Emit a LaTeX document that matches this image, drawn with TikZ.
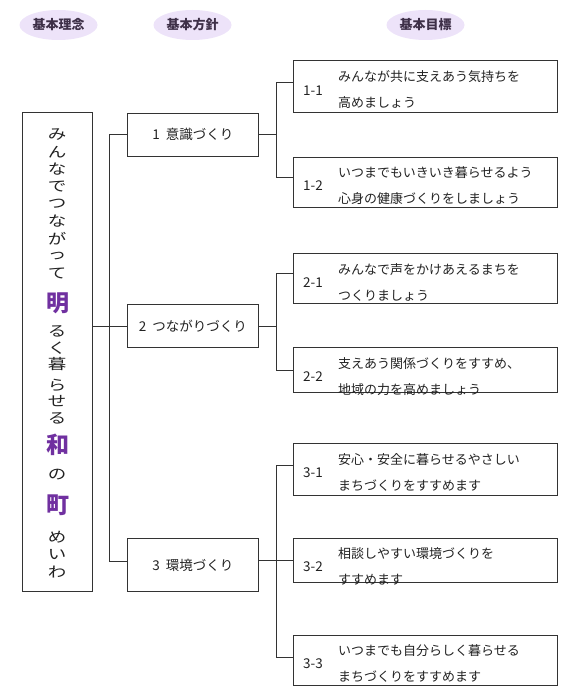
\documentclass[tikz,border=0pt]{standalone}
\usepackage{fontspec}
\setmainfont{Noto Sans CJK JP}
\usetikzlibrary{shapes.geometric,calc}
\definecolor{hdrfill}{HTML}{EDE3F9}
\definecolor{hdrtext}{HTML}{3E3048}
\definecolor{lineclr}{HTML}{333333}
\definecolor{txt}{HTML}{222222}
\definecolor{wapurple}{HTML}{7030A0}
\tikzset{
  hdr/.style={ellipse, fill=hdrfill, minimum width=78pt, minimum height=30pt, inner sep=0pt, text=hdrtext, font=\fontsize{13}{14}\selectfont\bfseries},
  policybox/.style={draw=lineclr, line width=0.8pt, minimum width=131pt, inner sep=0pt, text=txt, font=\fontsize{13.5}{15}\selectfont},
  goalbox/.style={draw=lineclr, line width=0.8pt, minimum width=264pt, inner sep=0pt, anchor=north west},
  goallabel/.style={anchor=west, inner sep=0pt, text=txt, font=\fontsize{13.5}{15}\selectfont},
  goaltext/.style={anchor=west, inner sep=0pt, align=left, text=txt, font=\fontsize{13}{26}\selectfont},
  vch/.style={inner sep=0pt, text=txt, font=\fontsize{18.5}{19}\selectfont},
  bigch/.style={inner sep=0pt, text=wapurple, font=\fontsize{23}{24}\selectfont\bfseries},
  conn/.style={draw=lineclr, line width=0.8pt},
}
\begin{document}
\begin{tikzpicture}[x=1pt,y=-1pt]
\useasboundingbox (0,0) rectangle (580,700);
% headers
\node[hdr] (h1) at (58.5,25) {基本理念};
\node[hdr] (h2) at (192.5,25) {基本方針};
\node[hdr] (h3) at (425.5,25) {基本目標};
% left concept box
\node[draw=lineclr, line width=0.8pt, minimum width=70pt, minimum height=479pt, inner sep=0pt, anchor=north west] (L) at (22,112) {};
\foreach \c/\yy [count=\i] in {み/135,ん/152,な/169.5,で/187,つ/204,な/221,が/238.5,っ/256.5,て/273.5,る/331.5,く/348,暮/364.5,ら/385,せ/401.5,る/418.5,の/475,め/537,い/555,わ/572}
  \node[vch] (v\i) at (57,\yy) {\scalebox{1}[0.78]{\c}};
\node[bigch] (m1) at (57.5,303) {明};
\node[bigch] (m2) at (57.5,445) {和};
\node[bigch] (m3) at (57.5,505) {町};
% policy boxes
\node[policybox, minimum height=43pt, anchor=north west] (b1) at (127,113) {1\hspace{6pt}意識づくり};
\node[policybox, minimum height=43pt, anchor=north west] (b2) at (127,304) {2\hspace{6pt}つながりづくり};
\node[policybox, minimum height=53pt, anchor=north west] (b3) at (127,538) {3\hspace{6pt}環境づくり};
% goal boxes
\node[goalbox, minimum height=52pt] (g11) at (293,60) {};
\node[goalbox, minimum height=50pt] (g12) at (293,157) {};
\node[goalbox, minimum height=50pt] (g21) at (293,253) {};
\node[goalbox, minimum height=45pt] (g22) at (293,347) {};
\node[goalbox, minimum height=52pt] (g31) at (293,443) {};
\node[goalbox, minimum height=44pt] (g32) at (293,538) {};
\node[goalbox, minimum height=50pt] (g33) at (293,635) {};
% goal labels and texts
\node[goallabel] (l11) at (303,91) {1-1};
\node[goaltext] (t11) at (338,89.5) {みんなが共に支えあう気持ちを\\高めましょう};
\node[goallabel] (l12) at (303,186) {1-2};
\node[goaltext] (t12) at (338,186) {いつまでもいきいき暮らせるよう\\心身の健康づくりをしましょう};
\node[goallabel] (l21) at (303,283) {2-1};
\node[goaltext] (t21) at (338,282) {みんなで声をかけあえるまちを\\つくりましょう};
\node[goallabel] (l22) at (303,377) {2-2};
\node[goaltext] (t22) at (338,376.5) {支えあう関係づくりをすすめ、\\地域の力を高めましょう};
\node[goallabel] (l31) at (303,473) {3-1};
\node[goaltext] (t31) at (338,472.5) {安心・安全に暮らせるやさしい\\まちづくりをすすめます};
\node[goallabel] (l32) at (303,567) {3-2};
\node[goaltext] (t32) at (338,566) {相談しやすい環境づくりを\\すすめます};
\node[goallabel] (l33) at (303,664) {3-3};
\node[goaltext] (t33) at (338,663.5) {いつまでも自分らしく暮らせる\\まちづくりをすすめます};
% connectors left
\draw[conn] (L.east |- b2.west) -- (b2.west);
\draw[conn] (b1.west) -- ++(-18,0) coordinate (jl) |- ([yshift=4pt]b3.west);
% group 1
\draw[conn] (b1.east) -- ++(18,0) coordinate (j1);
\draw[conn] ([yshift=4pt]g11.west) -| (j1) |- ([yshift=5pt]g12.west);
% group 2
\draw[conn] (b2.east) -- ++(18,0) coordinate (j2);
\draw[conn] ([yshift=5pt]g21.west) -| (j2) |- (g22.west);
% group 3
\draw[conn] (b3.east |- g32.west) -- (g32.west);
\coordinate (e33) at ([yshift=3pt]g33.west);
\draw[conn] ([yshift=4pt]g31.west) -- ++(-17,0) coordinate (j3) |- (e33);
\end{tikzpicture}
\end{document}
